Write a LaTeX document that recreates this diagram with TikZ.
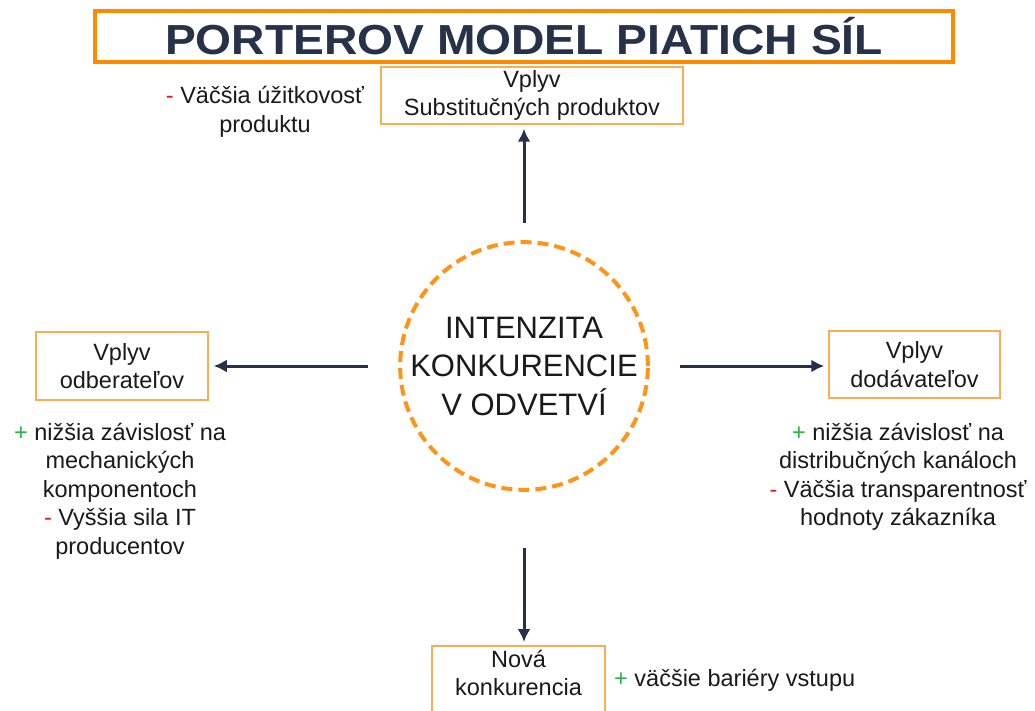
\documentclass[tikz,border=0pt]{standalone}
\usepackage{fontspec}
\setmainfont{Liberation Sans}
\usepackage{graphicx}
\usetikzlibrary{arrows.meta}
\definecolor{navy}{HTML}{263248}
\definecolor{orangeD}{HTML}{FF8A00}
\definecolor{orangeL}{HTML}{F9AD55}
\definecolor{orangeC}{HTML}{FF9419}
\definecolor{plusg}{HTML}{2DB34A}
\definecolor{minusr}{HTML}{E8141B}
\definecolor{txt}{HTML}{1A1A1A}
\newcommand{\pl}{\textcolor{plusg}{+}}
\newcommand{\mi}{\textcolor{minusr}{-}}
\tikzset{
  base/.style={font=\fontsize{23.5}{28.5}\selectfont, text=txt, align=center},
  forcebox/.style={base, draw=orangeL, line width=1.5pt, inner sep=0pt},
  note/.style={base, inner sep=2pt},
  arr/.style={draw=navy, line width=3pt, -{Latex[length=13pt,width=13pt]}},
}
\begin{document}
\begin{tikzpicture}[x=1pt,y=-1pt]
\clip (0,0) rectangle (1035,711);
\fill[white] (0,0) rectangle (1035,711);
% title
\node[draw=orangeD, line width=4pt, minimum width=858pt, minimum height=51pt, inner sep=0pt, text=navy,
  text height=37pt, text depth=0pt] (title) at (524,36.5)
  {\scalebox{1.1}[1]{\fontsize{42}{42}\selectfont\bfseries PORTEROV MODEL PIATICH SÍL}};
% forces
\node[forcebox, minimum width=302pt, minimum height=57pt] (sub) at (532,95.5) {Vplyv\\Substitučných produktov};
\node[forcebox, minimum width=172pt, minimum height=68pt] (buy) at (122,366) {Vplyv\\odberateľov};
\node[forcebox, minimum width=171pt, minimum height=67pt] (sup) at (914.5,364.5) {Vplyv\\dodávateľov};
\node[forcebox, minimum width=173pt, anchor=north, text depth=40pt, inner ysep=4pt] (new) at (518.5,645) {Nová\\konkurencia};
% centre
\node[circle, draw=orangeC, line width=4pt, dash pattern=on 11pt off 6pt, minimum size=240pt, inner sep=0pt,
  font=\fontsize{31}{38.5}\selectfont, text=txt, align=center] (circ) at (524,366) {INTENZITA\\KONKURENCIE\\V ODVETVÍ};
% arrows
\draw[arr, shorten <=17pt, shorten >=4pt] (circ.north) -- (circ.north |- sub.south);
\draw[arr, shorten <=30pt, shorten >=5pt] (circ.west) -- (circ.west -| buy.east);
\draw[arr, shorten <=30pt, shorten >=4pt] (circ.east) -- (circ.east -| sup.west);
\draw[arr, shorten <=56pt, shorten >=3pt] (circ.south) -- (circ.south |- new.north);
% notes
\node[note] (nsub) at (265,112) {\mi{} Väčšia úžitkovosť\\produktu};
\node[note] (nbuy) at (120,491) {\pl{} nižšia závislosť na\\mechanických\\komponentoch\\\mi{} Vyššia sila IT\\producentov};
\node[note] (nsup) at (898,477) {\pl{} nižšia závislosť na\\distribučných kanáloch\\\mi{} Väčšia transparentnosť\\hodnoty zákazníka};
\node[note, anchor=west] (nnew) at (612,680) {\pl{} väčšie bariéry vstupu};
\end{tikzpicture}
\end{document}
